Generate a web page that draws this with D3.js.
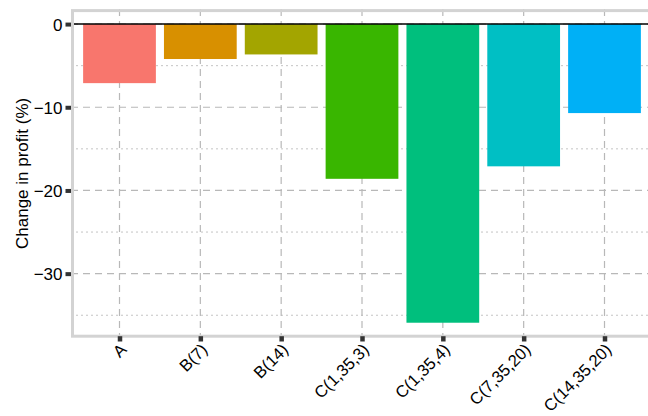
<!DOCTYPE html>
<html><head><meta charset="utf-8">
<script src="https://cdn.jsdelivr.net/npm/d3@7"></script>
<style>body{margin:0;background:#fff}svg{display:block;font-family:"Liberation Sans",Arial,sans-serif}</style>
</head><body><svg id="c" width="648" height="416"></svg>
<script>
const categories = ["A","B(7)","B(14)","C(1,35,3)","C(1,35,4)","C(7,35,20)","C(14,35,20)"];
const values = [-7.1,-4.2,-3.65,-18.6,-35.9,-17.1,-10.7];
const colors = ["#F8766D","#D89000","#A3A500","#39B600","#00BF7D","#00BFC4","#00B0F6"];
const yTicks = [0,-10,-20,-30];
const yMinor = [-5,-15,-25,-35];

const svg = d3.select("#c");
const L = 71, R = 653, T = 9.1, B = 337.7;
const step = (R - L) / 7.2;
const x = d3.scalePoint().domain(categories).range([L + 0.6*step, R - 0.6*step]);
const bw = 0.9*step;
const y = d3.scaleLinear().domain([-37.7, 1.8]).range([B, T]);

const g = svg.append("g");
g.append("rect").attr("x",L).attr("y",T).attr("width",R-L).attr("height",B-T).attr("fill","#fff");
// minor grid
g.selectAll(".mn").data(yMinor).join("line").attr("x1",L).attr("x2",R)
  .attr("y1",d=>y(d)).attr("y2",d=>y(d)).attr("stroke","#c4c4c4").attr("stroke-width",1).attr("stroke-dasharray","2,3");
// major grid
g.selectAll(".mj").data(yTicks).join("line").attr("x1",L).attr("x2",R)
  .attr("y1",d=>y(d)).attr("y2",d=>y(d)).attr("stroke","#b8b8b8").attr("stroke-width",1.2).attr("stroke-dasharray","7,5");
g.selectAll(".vx").data(categories).join("line").attr("x1",d=>x(d)).attr("x2",d=>x(d))
  .attr("y1",T).attr("y2",B).attr("stroke","#b8b8b8").attr("stroke-width",1.2).attr("stroke-dasharray","7,5");
// bars
g.selectAll(".bar").data(values).join("rect")
  .attr("x",(d,i)=>x(categories[i]) - bw/2).attr("width",bw)
  .attr("y",d=>y(0)).attr("height",d=>y(d)-y(0)).attr("fill",(d,i)=>colors[i]);
// zero line
g.append("line").attr("x1",L).attr("x2",R).attr("y1",y(0)).attr("y2",y(0)).attr("stroke","#000").attr("stroke-width",1.5);
// panel border (inside)
g.append("rect").attr("x",L+1.5).attr("y",T+1.5).attr("width",R-L-3).attr("height",B-T-3)
  .attr("fill","none").attr("stroke","#d3d3d3").attr("stroke-width",3);

// y axis
const yAxis = d3.axisLeft(y).tickValues(yTicks).tickSize(5.5).tickPadding(3)
  .tickFormat(d => d < 0 ? "\u2212" + Math.abs(d) : String(d));
const ya = svg.append("g").attr("transform",`translate(${L},0)`).call(yAxis);
ya.select(".domain").remove();
ya.selectAll(".tick line").attr("stroke","#333").attr("stroke-width",4);
ya.selectAll(".tick text").attr("fill","#000").style("font-size","17px").attr("dy","0.36em");

// x axis
const xAxis = d3.axisBottom(x).tickSize(3.8).tickPadding(3);
const xa = svg.append("g").attr("transform",`translate(0,${B})`).call(xAxis);
xa.select(".domain").remove();
xa.selectAll(".tick line").attr("stroke","#333").attr("stroke-width",4.5).attr("y1",-1.5);
xa.selectAll(".tick text").attr("fill","#000").style("font-size","16.6px")
  .attr("text-anchor","end").attr("y",0).attr("dy","0")
  .attr("transform","translate(7.5,13) rotate(-45)");

// y title
svg.append("text").attr("transform",`translate(28,${(T+B)/2}) rotate(-90)`)
  .attr("text-anchor","middle").style("font-size","17px").attr("fill","#000").text("Change in profit (%)");
</script></body></html>
